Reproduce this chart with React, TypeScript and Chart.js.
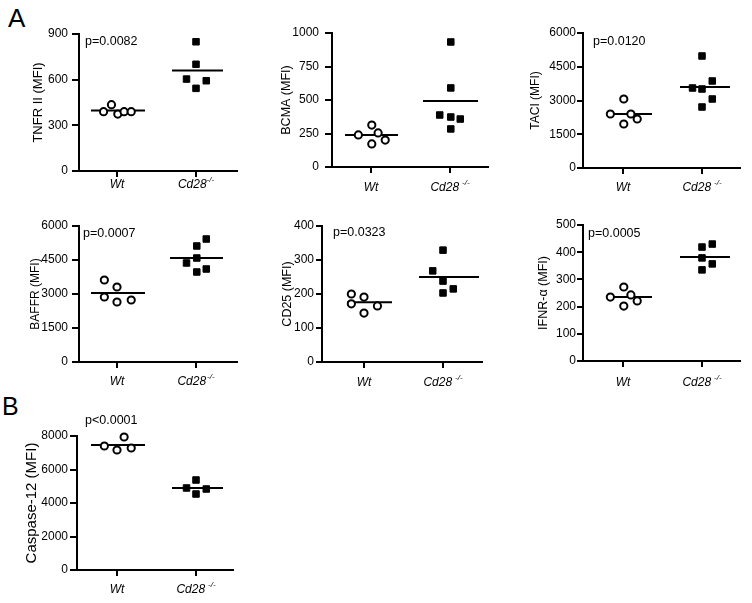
import React, { useEffect, useRef } from 'react';
import { Chart, registerables } from 'chart.js';
Chart.register(...registerables);

const FONT = '"Liberation Sans", Arial, Helvetica, sans-serif';

// Group labels
const groupLabels = ['Wt', 'Cd28'];
const supLabel = '-/-';

// TNFR II
const tnfrWtX = [0.83, 0.93, 1.01, 1.09, 1.18];
const tnfrWtY = [390, 436, 374, 390, 390];
const tnfrCdX = [2.0, 2.0, 1.88, 2.13, 2.0];
const tnfrCdY = [849, 701, 604, 593, 543];
const tnfrMeans = [398, 660];

// BCMA
const bcmaWtX = [0.84, 1.01, 1.09, 1.01, 1.18];
const bcmaWtY = [239, 313, 254, 172, 201];
const bcmaCdX = [2.01, 2.01, 1.87, 2.01, 2.13, 2.01];
const bcmaCdY = [933, 590, 388, 373, 358, 284];
const bcmaMeans = [239, 493];

// TACI
const taciWtX = [0.84, 1.01, 1.1, 1.01, 1.18];
const taciWtY = [2400, 3067, 2400, 1956, 2178];
const taciCdX = [2.0, 1.88, 2.0, 2.13, 2.13, 2.0];
const taciCdY = [4978, 3556, 3511, 3867, 3067, 2711];
const taciMeans = [2400, 3600];

// BAFFR
const baffrWtX = [0.84, 1.0, 0.84, 1.0, 1.18];
const baffrWtY = [3618, 3309, 2868, 2647, 2735];
const baffrCdX = [2.13, 2.01, 2.01, 1.88, 2.13, 2.01];
const baffrCdY = [5426, 5118, 4588, 4368, 4103, 3971];
const baffrMeans = [3044, 4588];

// CD25
const cd25WtX = [0.84, 1.0, 0.84, 1.0, 1.17];
const cd25WtY = [200, 191, 171, 144, 165];
const cd25CdX = [2.0, 1.87, 2.0, 2.13, 2.0];
const cd25CdY = [329, 268, 238, 215, 203];
const cd25Means = [176, 250];

// IFNR-alpha
const ifnrWtX = [0.84, 1.01, 1.1, 1.01, 1.18];
const ifnrWtY = [235, 272, 243, 202, 221];
const ifnrCdX = [2.13, 2.0, 2.0, 2.13, 2.0];
const ifnrCdY = [430, 419, 379, 357, 335];
const ifnrMeans = [235, 382];

// Caspase-12
const caspWtX = [0.84, 1.0, 1.09, 1.18];
const caspWtY = [7403, 7164, 7940, 7284];
const caspCdX = [2.0, 1.88, 2.13, 2.0];
const caspCdY = [5373, 4896, 4836, 4537];
const caspMeans = [7463, 4896];

type Layout = {
  axisL: number; axisR: number; top: number; bottom: number; titleX: number;
  wtTick: number; cdTick: number; wtLine: number[]; cdLine: number[];
  labelOffset: number; supGap: number; pdx: number; pdy: number; titleSize: number;
  tickLen: number; tickPad: number;
};

type PanelDef = {
  title: string; max: number; step: number; p: string;
  wtX: number[]; wtY: number[]; cdX: number[]; cdY: number[]; means: number[];
  layout: Layout;
};

const panels: PanelDef[] = [
  {
    title: 'TNFR II (MFI)', max: 900, step: 300, p: 'p=0.0082',
    wtX: tnfrWtX, wtY: tnfrWtY, cdX: tnfrCdX, cdY: tnfrCdY, means: tnfrMeans,
    layout: { axisL: 79, axisR: 237, top: 34, bottom: 171, titleX: 39, wtTick: 117, cdTick: 196,
      wtLine: [91, 145], cdLine: [172, 223], labelOffset: 14, supGap: 0, pdx: 6, pdy: 8, titleSize: 13,
      tickLen: 7, tickPad: 4 },
  },
  {
    title: 'BCMA (MFI)', max: 1000, step: 250, p: '',
    wtX: bcmaWtX, wtY: bcmaWtY, cdX: bcmaCdX, cdY: bcmaCdY, means: bcmaMeans,
    layout: { axisL: 332, axisR: 488, top: 33, bottom: 167, titleX: 286, wtTick: 371, cdTick: 450,
      wtLine: [345, 398], cdLine: [423, 478], labelOffset: 21, supGap: 3, pdx: 6, pdy: 8, titleSize: 12.5,
      tickLen: 7, tickPad: 6 },
  },
  {
    title: 'TACI (MFI)', max: 6000, step: 1500, p: 'p=0.0120',
    wtX: taciWtX, wtY: taciWtY, cdX: taciCdX, cdY: taciCdY, means: taciMeans,
    layout: { axisL: 583, axisR: 740, top: 33, bottom: 168, titleX: 535, wtTick: 623, cdTick: 702,
      wtLine: [606, 652], cdLine: [680, 730], labelOffset: 20, supGap: 3, pdx: 10, pdy: 9, titleSize: 12,
      tickLen: 6, tickPad: 1 },
  },
  {
    title: 'BAFFR (MFI)', max: 6000, step: 1500, p: 'p=0.0007',
    wtX: baffrWtX, wtY: baffrWtY, cdX: baffrCdX, cdY: baffrCdY, means: baffrMeans,
    layout: { axisL: 79, axisR: 237, top: 226, bottom: 362, titleX: 35, wtTick: 117, cdTick: 196,
      wtLine: [91, 145], cdLine: [170, 223], labelOffset: 20, supGap: 1, pdx: 4, pdy: 8, titleSize: 12,
      tickLen: 7, tickPad: 4 },
  },
  {
    title: 'CD25 (MFI)', max: 400, step: 100, p: 'p=0.0323',
    wtX: cd25WtX, wtY: cd25WtY, cdX: cd25CdX, cdY: cd25CdY, means: cd25Means,
    layout: { axisL: 322, axisR: 482, top: 226, bottom: 362, titleX: 287, wtTick: 364, cdTick: 443,
      wtLine: [347, 392], cdLine: [419, 479], labelOffset: 21, supGap: 3, pdx: 11, pdy: 7, titleSize: 12.5,
      tickLen: 6, tickPad: 2 },
  },
  {
    title: 'IFNR-\u03b1 (MFI)', max: 500, step: 100, p: 'p=0.0005',
    wtX: ifnrWtX, wtY: ifnrWtY, cdX: ifnrCdX, cdY: ifnrCdY, means: ifnrMeans,
    layout: { axisL: 583, axisR: 740, top: 225, bottom: 361, titleX: 543, wtTick: 623, cdTick: 702,
      wtLine: [606, 652], cdLine: [680, 730], labelOffset: 22, supGap: 3, pdx: 5, pdy: 9, titleSize: 12.5,
      tickLen: 6, tickPad: 1 },
  },
  {
    title: 'Caspase-12 (MFI)', max: 8000, step: 2000, p: 'p<0.0001',
    wtX: caspWtX, wtY: caspWtY, cdX: caspCdX, cdY: caspCdY, means: caspMeans,
    layout: { axisL: 77, axisR: 233, top: 436, bottom: 570, titleX: 32, wtTick: 117, cdTick: 196,
      wtLine: [91, 145], cdLine: [172, 223], labelOffset: 20, supGap: 3, pdx: 8, pdy: -15, titleSize: 15,
      tickLen: 7, tickPad: 2 },
  },
];

const labelPlugin = {
  id: 'custLabels',
  afterDraw(chart: any, _args: any, opts: any) {
    const { ctx, chartArea } = chart;
    const xs = chart.scales.x;
    const yLab = chartArea.bottom + opts.labelOffset;
    ctx.save();
    ctx.fillStyle = '#000';
    ctx.textBaseline = 'middle';
    ctx.font = `italic 12px ${FONT}`;
    ctx.textAlign = 'center';
    ctx.fillText(groupLabels[0], xs.getPixelForValue(1), yLab);
    const w1 = ctx.measureText(groupLabels[1]).width;
    ctx.font = `italic 8px ${FONT}`;
    const w2 = ctx.measureText(supLabel).width;
    const total = w1 + opts.supGap + w2;
    const x0 = xs.getPixelForValue(2) - total / 2;
    ctx.textAlign = 'left';
    ctx.font = `italic 12px ${FONT}`;
    ctx.fillText(groupLabels[1], x0, yLab);
    ctx.font = `italic 8px ${FONT}`;
    ctx.fillText(supLabel, x0 + w1 + opts.supGap, yLab - 5);
    if (opts.p) {
      ctx.font = `12.5px ${FONT}`;
      ctx.fillText(opts.p, chartArea.left + opts.pdx, chartArea.top + opts.pdy);
    }
    ctx.restore();
  },
};

const PAD_TOP = 28;
const BOTTOM_H = 30;

function Panel({ def }: { def: PanelDef }) {
  const ref = useRef<HTMLCanvasElement>(null);
  const L = def.layout;
  const canvasLeft = Math.round(L.titleX - L.titleSize * 0.6);
  const canvasTop = L.top - PAD_TOP;
  const width = L.axisR + 8 - canvasLeft;
  const height = L.bottom + BOTTOM_H - canvasTop;

  useEffect(() => {
    if (!ref.current) return;
    const unit = L.cdTick - L.wtTick;
    const toU = (px: number) => 1 + (px - L.wtTick) / unit;
    const border = { display: true, color: '#000', width: 2 };
    const chart = new Chart(ref.current, {
      type: 'scatter',
      data: {
        datasets: [
          {
            data: def.wtX.map((x, i) => ({ x, y: def.wtY[i] })),
            pointStyle: 'circle', pointRadius: 3.6, pointBorderWidth: 2,
            pointBorderColor: '#000', pointBackgroundColor: '#fff', showLine: false, clip: false,
          } as any,
          {
            data: def.cdX.map((x, i) => ({ x, y: def.cdY[i] })),
            pointStyle: 'rect', pointRadius: 4.6, pointBorderWidth: 1,
            pointBorderColor: '#000', pointBackgroundColor: '#000', showLine: false, clip: false,
          } as any,
          {
            data: [{ x: toU(L.wtLine[0]), y: def.means[0] }, { x: toU(L.wtLine[1]), y: def.means[0] }],
            showLine: true, borderColor: '#000', borderWidth: 2, pointRadius: 0, clip: false,
          } as any,
          {
            data: [{ x: toU(L.cdLine[0]), y: def.means[1] }, { x: toU(L.cdLine[1]), y: def.means[1] }],
            showLine: true, borderColor: '#000', borderWidth: 2, pointRadius: 0, clip: false,
          } as any,
        ],
      },
      options: {
        animation: false,
        responsive: false,
        maintainAspectRatio: false,
        devicePixelRatio: 1,
        layout: { padding: { left: 0, top: PAD_TOP, right: 8, bottom: 0 } },
        plugins: {
          legend: { display: false },
          tooltip: { enabled: false },
          custLabels: { labelOffset: L.labelOffset, supGap: L.supGap, p: def.p, pdx: L.pdx, pdy: L.pdy },
        } as any,
        scales: {
          x: {
            type: 'linear',
            min: toU(L.axisL),
            max: toU(L.axisR),
            afterBuildTicks: (s: any) => { s.ticks = [{ value: 1 }, { value: 2 }]; },
            afterFit: (s: any) => { s.height = BOTTOM_H; },
            ticks: { display: false },
            grid: { display: true, drawOnChartArea: false, drawTicks: true, tickLength: 6, color: '#000', lineWidth: 2 },
            border,
          },
          y: {
            type: 'linear',
            min: 0,
            max: def.max,
            ticks: {
              stepSize: def.step, color: '#000', padding: L.tickPad, font: { size: 12, family: FONT },
              callback: (v: any) => String(v),
            },
            afterFit: (s: any) => { s.width = L.axisL - canvasLeft; },
            grid: { display: true, drawOnChartArea: false, drawTicks: true, tickLength: L.tickLen, color: '#000', lineWidth: 2 },
            border,
            title: {
              display: true, text: def.title, color: '#000', padding: 0,
              font: { size: L.titleSize, family: FONT },
            },
          },
        } as any,
      },
      plugins: [labelPlugin],
    });
    return () => chart.destroy();
  }, []);

  return (
    <canvas
      ref={ref}
      width={width}
      height={height}
      style={{ position: 'absolute', left: canvasLeft, top: canvasTop, width, height }}
    />
  );
}

export default function App() {
  return (
    <div style={{ position: 'absolute', left: 0, top: 0, width: 752, height: 603, background: '#fff', fontFamily: FONT, overflow: 'hidden' }}>
      <div style={{ position: 'absolute', left: 8, top: 5, fontSize: 26, lineHeight: '26px', color: '#000' }}>A</div>
      <div style={{ position: 'absolute', left: 2, top: 394, fontSize: 25, lineHeight: '25px', color: '#000' }}>B</div>
      {panels.map((p, i) => <Panel key={i} def={p} />)}
    </div>
  );
}
